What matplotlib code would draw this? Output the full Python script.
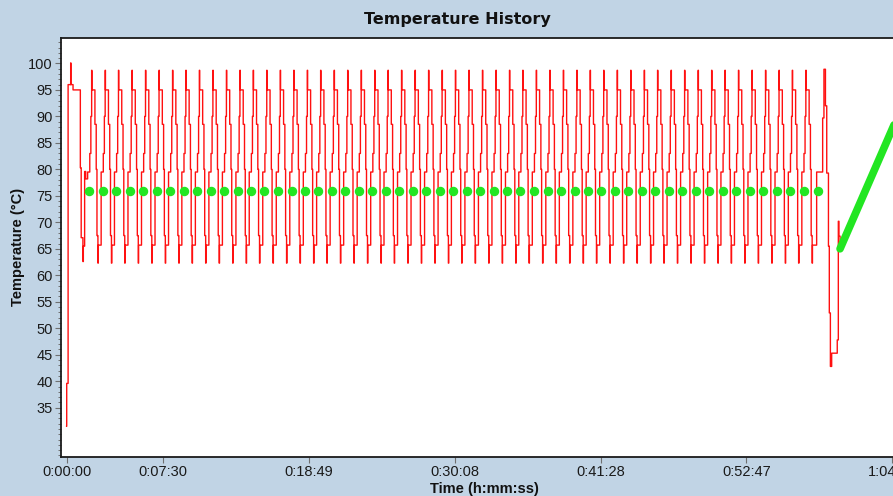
import matplotlib
matplotlib.use("Agg")
import matplotlib.pyplot as plt
import numpy as np

# ---------------- data ----------------
# start-up segment (seconds, degC), drawn as steps
start_t = [0, 0.5, 7, 19, 20, 30, 64, 68, 76, 78, 84, 89]
start_v = [31.5, 39.6, 96.0, 100.1, 96.0, 95.0, 80.3, 67.1, 62.6, 65.5, 79.6, 78.2]

# one regular cycle, offsets (s) relative to its set-point marker, degC
cycle_dt = [-8, 2, 7, 10.7, 12, 26, 32, 35.5, 40, 41.5]
cycle_v = [79.5, 83.0, 90.0, 98.7, 95.0, 88.5, 80.0, 67.5, 62.3, 65.7]

# set-point markers (green) times in seconds
marker_t = [106, 169, 231, 294, 357, 420, 483, 545, 608, 671,
            734, 797, 859, 922, 985, 1048, 1111, 1173, 1236, 1299,
            1362, 1425, 1487, 1550, 1613, 1676, 1739, 1801, 1864, 1927,
            1990, 2053, 2115, 2178, 2241, 2304, 2367, 2429, 2492, 2555,
            2618, 2681, 2743, 2806, 2869, 2932, 2995, 3057, 3120, 3183,
            3246, 3309, 3371, 3434, 3503]
setpoint_temp = 76.0

# final irregular cycle and drop
end_t = [3495, 3523, 3529, 3536, 3542, 3550, 3554, 3559, 3565, 3591, 3596, 3599, 3604]
end_v = [79.5, 89.7, 98.9, 92.0, 79.3, 65.5, 52.9, 42.8, 45.3, 47.8, 70.2, 67.4, 65.0]

# final ramp (green)
ramp_t = [3604, 3890]
ramp_v = [65.0, 91.6]

xtick_pos = [0, 450, 1129, 1808, 2488, 3167, 3846]
xtick_lbl = ['0:00:00', '0:07:30', '0:18:49', '0:30:08', '0:41:28', '0:52:47', '1:04:06']
ytick_pos = list(range(35, 101, 5))

# ---------------- build red trace ----------------
red_t = list(start_t)
red_v = list(start_v)
for tm in marker_t[:-1]:
    red_t += [tm + d for d in cycle_dt]
    red_v += list(cycle_v)
red_t += end_t
red_v += end_v

bg = '#C1D4E5'
fig = plt.figure(figsize=(8.93, 4.96), dpi=100, facecolor=bg)
W, H = 893, 496
L, R, T, B = 61, 900, 38, 457
ax = fig.add_axes([L / W, 1 - B / H, (R - L) / W, (B - T) / H])
ax.set_facecolor('white')

ax.step(red_t, red_v, where='post', color='#FF1010', lw=1.0, zorder=2)
ax.plot(ramp_t, ramp_v, color='#22E622', lw=5.5, solid_capstyle='round', zorder=4)
ax.plot(marker_t, [setpoint_temp] * len(marker_t), ls='none', marker='o',
        ms=5.8, mfc='#22E622', mec='#22E622', zorder=3)

ax.set_xlim(-26.1, 3883.4)
ax.set_ylim(25.7, 104.8)

ax.set_xticks(xtick_pos)
ax.set_xticklabels(xtick_lbl)
ax.set_yticks(ytick_pos)
ax.set_yticks(np.arange(26, 105, 1), minor=True)

for lb in ax.get_xticklabels() + ax.get_yticklabels():
    lb.set_fontfamily('Liberation Sans')
    lb.set_fontsize(10.5)
    lb.set_color('#1a1a1a')

ax.tick_params(axis='both', which='major', length=4.5, width=0.8, color='#707070', pad=1.5)
ax.tick_params(axis='y', which='minor', length=2.2, width=0.7, color='#707070')
ax.tick_params(axis='x', which='minor', length=0)

for s in ax.spines.values():
    s.set_color('#1a1a1a')
    s.set_linewidth(1.3)

fig.text(457.7 / W, 1 - 19.5 / H, 'Temperature History', ha='center', va='center',
         family='DejaVu Sans', weight='heavy', size=11.5, color='#111111')
fig.text(18 / W, 1 - 247 / H, 'Temperature (°C)', ha='center', va='center', rotation=90,
         family='Liberation Sans', weight='bold', size=10.5, color='#111111')
fig.text(484.5 / W, 1 - 489.5 / H, 'Time (h:mm:ss)', ha='center', va='center',
         family='Liberation Sans', weight='bold', size=10.5, color='#111111')

fig.savefig('out.png', dpi=100, facecolor=bg)
